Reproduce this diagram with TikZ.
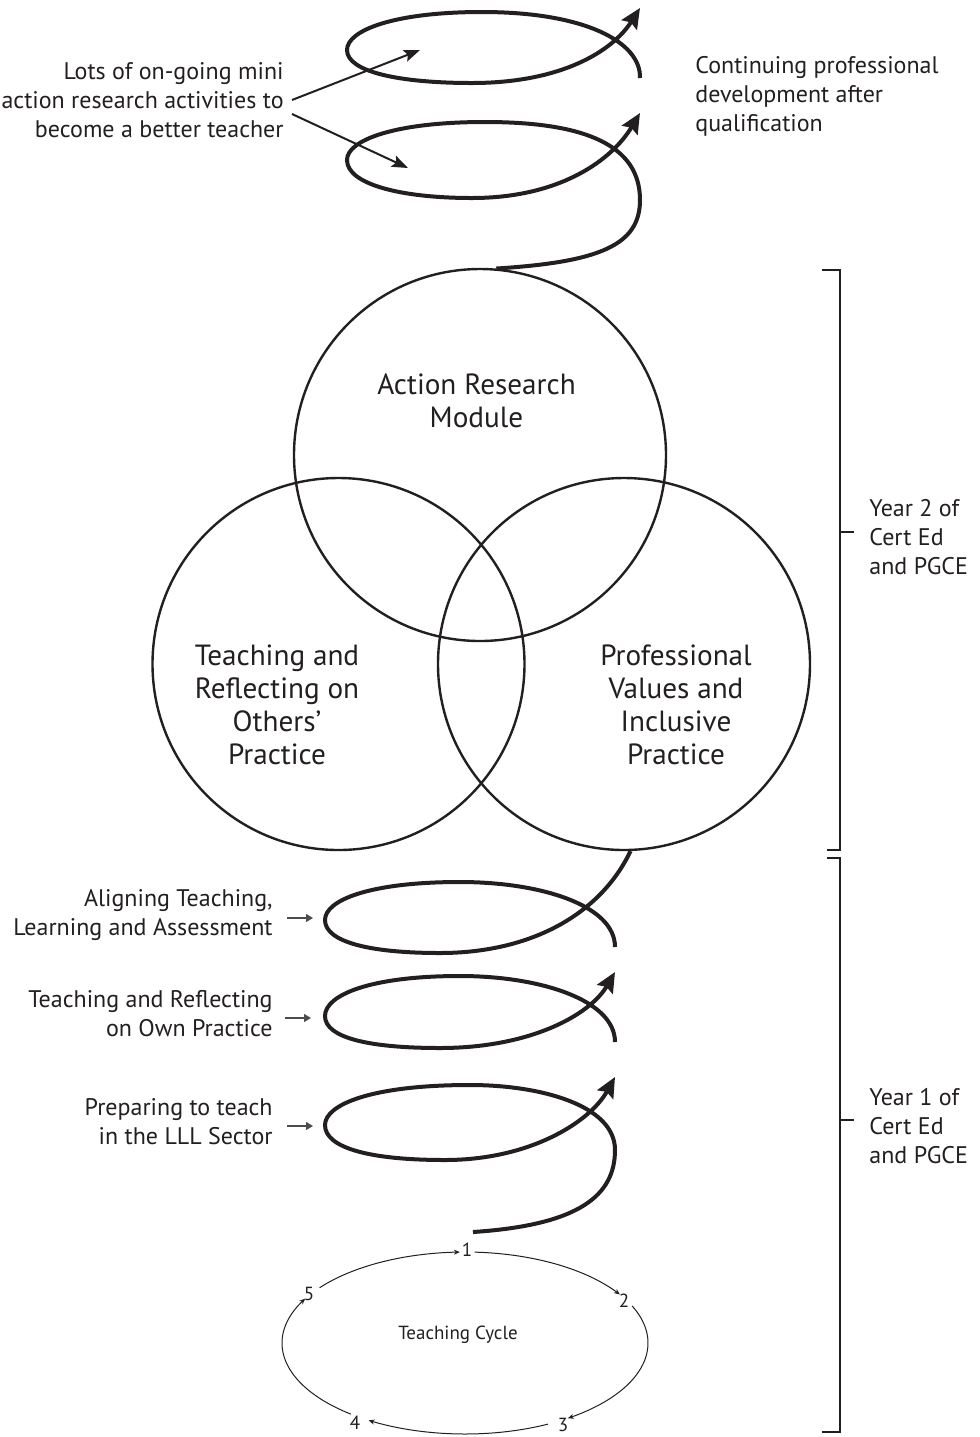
\documentclass[tikz,border=0pt]{standalone}
\usepackage{fontspec}
\setmainfont{PT Sans}
\usetikzlibrary{arrows.meta}
\definecolor{ink}{HTML}{231F20}
\begin{document}
\begin{tikzpicture}[x=0.5pt,y=-0.5pt,
  every node/.style={inner sep=0pt, text=ink},
  ring/.style={circle, draw=ink, line width=1.2pt, minimum size=186pt},
  clabel/.style={font=\fontsize{14.6}{16.5}\selectfont, align=center},
  lbl/.style={font=\fontsize{12}{14.5}\selectfont},
  spiral/.style={draw=ink, line width=2pt},
  bigtip/.style={-{Stealth[length=10pt,width=9pt,inset=1.5pt]}},
  pointer/.style={draw=ink, line width=1pt, -{Stealth[length=8pt,width=6pt,inset=1.5pt]}},
  smallptr/.style={draw=ink!80, line width=0.6pt, -{Triangle[length=3.5pt,width=4pt]}},
  bracket/.style={draw=ink, line width=1.2pt},
  cyc/.style={draw=ink, line width=0.5pt},
  cyctip/.style={{Stealth[length=3pt,width=2.5pt]}-},
  num/.style={font=\fontsize{9.5}{11}\selectfont}]
\fill[white] (0,0) rectangle (980,1437);
\useasboundingbox (0,0) rectangle (980,1437);

% three circles
\node[ring] (arm) at (480,455) {};
\node[ring] (trop) at (338.5,664) {};
\node[ring] (pvip) at (624,664) {};
\node[clabel] (armt) at (476.5,401) {Action Research\\Module};
\node[clabel] (tropt) at (277,704.5) {Teaching and\\Reflecting on\\Others’\\Practice};
\node[clabel] (pvipt) at (676,704.5) {Professional\\Values and\\Inclusive\\Practice};

% top spiral (CPD)
\draw[spiral, bigtip] (640,78) .. controls (641,42) and (585,12) .. (482,12)
  .. controls (395,12) and (347,30) .. (347,50)
  .. controls (347,72) and (400,83) .. (472,83)
  .. controls (560,83) and (612,52) .. (640,8);
\draw[spiral, bigtip] (arm.85) .. controls (600,262) and (640,245) .. (640,200)
  .. controls (640,145) and (585,122) .. (485,122)
  .. controls (395,122) and (347,140) .. (347,160)
  .. controls (347,184) and (400,198) .. (472,198)
  .. controls (560,198) and (612,160) .. (640,113);

\node[lbl, align=right, anchor=east] (lots) at (284,100) {Lots of on-going mini\\action research activities to\\become a better teacher};
\coordinate (la1) at (292,100);
\coordinate (la2) at (292,114);
\coordinate (ta1) at (420,50);
\coordinate (ta2) at (408,168);
\draw[pointer] (la1) -- (ta1);
\draw[pointer] (la2) -- (ta2);

\node[lbl, align=left, anchor=west] (cpd) at (695,96) {Continuing professional\\development after\\qualification};

% bottom spiral (year 1)
\draw[spiral] (615,947) .. controls (615,905) and (540,882) .. (460,882)
  .. controls (370,882) and (325,900) .. (325,920)
  .. controls (325,942) and (370,953) .. (440,953)
  .. controls (530,953) and (600,915) .. (pvip.-88);
\draw[spiral, bigtip] (615,1042) .. controls (615,1000) and (540,976) .. (460,976)
  .. controls (370,976) and (325,995) .. (325,1016)
  .. controls (325,1038) and (370,1048) .. (440,1048)
  .. controls (530,1048) and (590,1015) .. (615,972);
\coordinate (cycstart) at (473,1232);
\draw[spiral, bigtip] (cycstart) .. controls (580,1225) and (615,1195) .. (615,1150)
  .. controls (615,1105) and (540,1085) .. (470,1085)
  .. controls (370,1085) and (325,1105) .. (325,1125)
  .. controls (325,1148) and (370,1160) .. (445,1160)
  .. controls (530,1160) and (590,1122) .. (615,1077);

\node[lbl, align=right, anchor=east] (alta) at (273,915) {Aligning Teaching,\\Learning and Assessment};
\node[lbl, align=right, anchor=east] (trop2) at (273,1014) {Teaching and Reflecting\\on Own Practice};
\node[lbl, align=right, anchor=east] (prep) at (273,1122) {Preparing to teach\\in the LLL Sector};
\coordinate (pa1) at (287,918);  \coordinate (pb1) at (313,918);
\coordinate (pa2) at (285,1018); \coordinate (pb2) at (311,1018);
\coordinate (pa3) at (287,1126); \coordinate (pb3) at (313,1126);
\draw[smallptr] (pa1) -- (pb1);
\draw[smallptr] (pa2) -- (pb2);
\draw[smallptr] (pa3) -- (pb3);

% teaching cycle
\node[num] (c1) at (467,1250) {1};
\node[num] (c2) at (624,1301) {2};
\node[num] (c3) at (563,1425) {3};
\node[num] (c4) at (355,1423) {4};
\node[num] (c5) at (309,1294) {5};
\node[font=\fontsize{9.5}{11}\selectfont, anchor=base] (tc) at (458,1339) {Teaching Cycle};
\draw[cyc, cyctip] plot[domain=91.6:142.6, samples=40, variable=\t] ({465+183*cos(\t)},{1343-91*sin(\t)});
\draw[cyc, cyctip] plot[domain=32.2:87, samples=40, variable=\t] ({465+183*cos(\t)},{1343-91*sin(\t)});
\draw[cyc, cyctip] plot[domain=-55.8:24, samples=50, variable=\t] ({465+183*cos(\t)},{1343-91*sin(\t)});
\draw[cyc, cyctip] plot[domain=-121.8:-63, samples=40, variable=\t] ({465+183*cos(\t)},{1343-91*sin(\t)});
\draw[cyc, cyctip] plot[domain=-209.2:-128.6, samples=50, variable=\t] ({465+183*cos(\t)},{1343-91*sin(\t)});

% brackets
\draw[bracket] (822,270) -- (840,270) -- (840,850) -- (827,850);
\draw[bracket] (840,532) -- (854,532);
\draw[bracket] (827,858) -- (840,858) -- (840,1432) -- (822,1432);
\draw[bracket] (840,1120) -- (854,1120);
\node[lbl, align=left, anchor=west] (y2) at (869,537) {Year 2 of\\Cert Ed\\and PGCE};
\node[lbl, align=left, anchor=west] (y1) at (869,1126) {Year 1 of\\Cert Ed\\and PGCE};
\end{tikzpicture}
\end{document}
